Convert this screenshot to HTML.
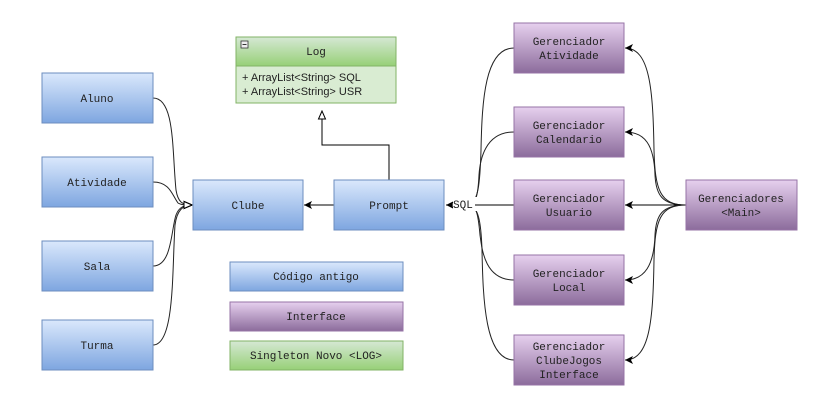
<!DOCTYPE html>
<html><head><meta charset="utf-8"><style>
html,body{margin:0;padding:0;background:#fff;width:829px;height:415px;overflow:hidden}
</style></head><body>
<svg width="829" height="415" viewBox="0 0 829 415" xmlns="http://www.w3.org/2000/svg" font-family="'Liberation Mono', 'Courier New', Courier, monospace" font-size="11">
<defs>
<linearGradient id="b" x1="0" y1="0" x2="0" y2="1"><stop offset="0" stop-color="#dae8fc"/><stop offset="1" stop-color="#7ea6e0"/></linearGradient>
<linearGradient id="p" x1="0" y1="0" x2="0" y2="1"><stop offset="0" stop-color="#e6d0ee"/><stop offset="1" stop-color="#8c6c9c"/></linearGradient>
<linearGradient id="g" x1="0" y1="0" x2="0" y2="1"><stop offset="0" stop-color="#d5e8d4"/><stop offset="1" stop-color="#97d077"/></linearGradient>
<marker id="a" markerWidth="10" markerHeight="10" refX="9" refY="5" orient="auto" markerUnits="userSpaceOnUse"><path d="M1,1 L9,5 L1,9 L3,5 Z" fill="#000"/></marker>
<marker id="o" markerWidth="10" markerHeight="10" refX="9" refY="5" orient="auto" markerUnits="userSpaceOnUse"><path d="M1,1.5 L9,5 L1,8.5 Z" fill="#fff" stroke="#000"/></marker>
</defs>
<g fill="none" stroke="#222" stroke-width="1">
<path d="M153,98 C175,98 172,150 176,190 C178,202 182,205 192,205" marker-end="url(#o)"/>
<path d="M153,182 C170,182 172,195 178,203 C181,205 185,205 192,205" marker-end="url(#o)"/>
<path d="M153,266 C172,266 171,230 176,215 C179,207 184,205 192,205" marker-end="url(#o)"/>
<path d="M153,345 C175,345 172,270 175,225 C177,210 183,205 192,205" marker-end="url(#o)"/>
<path d="M334,205 L304,205" stroke="#000" marker-end="url(#a)"/>
<path d="M389,180 L389,145 L322,145 L322,111" stroke="#000" marker-end="url(#o)"/>
<path d="M514,48 C485,48 482,100 481,150 C480,185 478,200 470,205"/>
<path d="M514,132 C485,132 480,160 479,175 C478,195 476,203 470,205"/>
<path d="M514,280 C485,280 482,250 480,235 C478,212 476,207 470,205"/>
<path d="M514,360 C485,360 483,300 482,250 C481,220 478,208 470,205"/>
<path d="M686,205 C660,205 655,190 654,150 C653,90 650,48 625,48" marker-end="url(#a)"/>
<path d="M686,205 C662,205 656,195 655,175 C654,145 645,132 625,132" marker-end="url(#a)"/>
<path d="M686,205 L625,205" stroke="#000" marker-end="url(#a)"/>
<path d="M686,205 C662,205 656,215 655,235 C654,265 645,280 625,280" marker-end="url(#a)"/>
<path d="M686,205 C660,205 655,220 654,260 C653,320 650,360 625,360" marker-end="url(#a)"/>
</g>
<rect x="453" y="197" width="24" height="14" fill="#fff"/>
<path d="M514,205 L446,205" stroke="#000" fill="none" marker-end="url(#a)"/>
<rect x="453" y="198" width="22" height="12" fill="#fff"/>
<text x="453" y="208" fill="#222">SQL</text>
<g stroke="#6c8ebf">
<rect x="42" y="73" width="111" height="50" fill="url(#b)"/>
<rect x="42" y="157" width="111" height="50" fill="url(#b)"/>
<rect x="42" y="241" width="111" height="50" fill="url(#b)"/>
<rect x="42" y="320" width="111" height="50" fill="url(#b)"/>
<rect x="193" y="180" width="110" height="50" fill="url(#b)"/>
<rect x="334" y="180" width="110" height="50" fill="url(#b)"/>
<rect x="230" y="262" width="173" height="29" fill="url(#b)"/>
</g>
<g stroke="#9673a6">
<rect x="514" y="23" width="110" height="50" fill="url(#p)"/>
<rect x="514" y="107" width="110" height="50" fill="url(#p)"/>
<rect x="514" y="180" width="110" height="50" fill="url(#p)"/>
<rect x="514" y="255" width="110" height="50" fill="url(#p)"/>
<rect x="514" y="335" width="110" height="50" fill="url(#p)"/>
<rect x="686" y="180" width="111" height="50" fill="url(#p)"/>
<rect x="230" y="302" width="173" height="29" fill="url(#p)"/>
</g>
<g stroke="#82b366">
<rect x="236" y="37" width="160" height="66" fill="#d9ecd2"/>
<rect x="236" y="37" width="160" height="29" fill="url(#g)"/>
<rect x="230" y="341" width="173" height="29" fill="url(#g)"/>
</g>
<rect x="241" y="41" width="7" height="7" fill="#eee" stroke="#333" stroke-width="0.8"/>
<line x1="242.5" y1="44.5" x2="246.5" y2="44.5" stroke="#333"/>
<g text-anchor="middle" fill="#222">
<text x="316" y="55">Log</text>
<text x="97" y="102">Aluno</text>
<text x="97" y="186">Atividade</text>
<text x="97" y="270">Sala</text>
<text x="97" y="349">Turma</text>
<text x="248" y="209">Clube</text>
<text x="389" y="209">Prompt</text>
<text x="569" y="45">Gerenciador</text><text x="569" y="59">Atividade</text>
<text x="569" y="129">Gerenciador</text><text x="569" y="143">Calendario</text>
<text x="569" y="202">Gerenciador</text><text x="569" y="216">Usuario</text>
<text x="569" y="277">Gerenciador</text><text x="569" y="291">Local</text>
<text x="569" y="350">Gerenciador</text><text x="569" y="364">ClubeJogos</text><text x="569" y="378">Interface</text>
<text x="741" y="202">Gerenciadores</text><text x="741" y="216">&lt;Main&gt;</text>
<text x="316" y="280">Código antigo</text>
<text x="316" y="320">Interface</text>
<text x="316" y="359">Singleton Novo &lt;LOG&gt;</text>
</g>
<text x="242" y="81" font-family="'Liberation Sans', Arial, sans-serif" font-size="11" fill="#222">+ ArrayList&lt;String&gt; SQL</text>
<text x="242" y="95" font-family="'Liberation Sans', Arial, sans-serif" font-size="11" fill="#222">+ ArrayList&lt;String&gt; USR</text>
</svg>
</body></html>
